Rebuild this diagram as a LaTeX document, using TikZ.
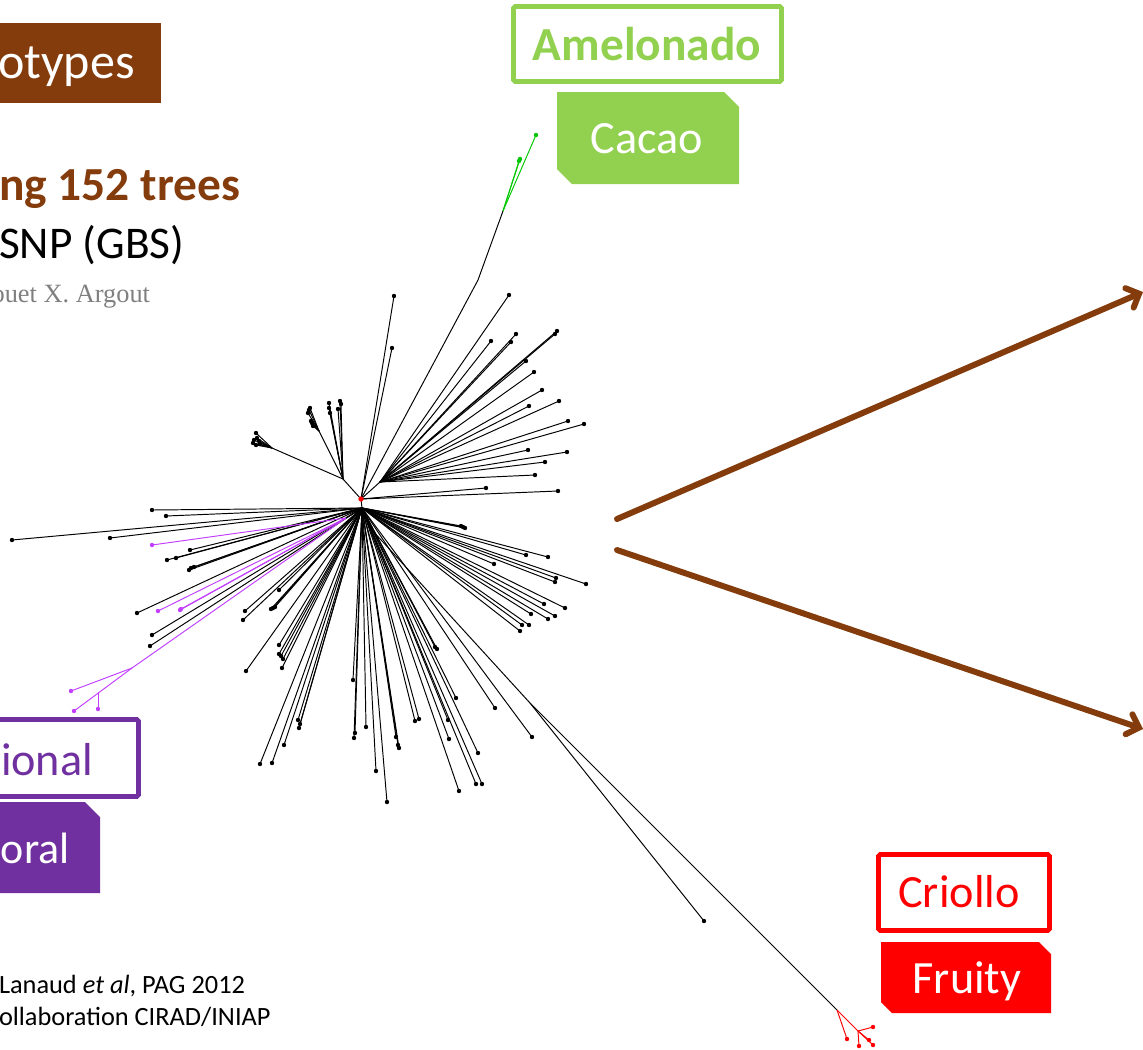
\documentclass[tikz,border=0pt]{standalone}
\usepackage{fontspec}
\setmainfont{Carlito}
\newfontfamily\grayserif{Liberation Serif}
\usetikzlibrary{arrows.meta}
\definecolor{cbrown}{HTML}{843C0C}
\definecolor{cpurple}{HTML}{7030A0}
\definecolor{cgreen}{HTML}{92D050}
\definecolor{cred}{HTML}{FF0000}
\definecolor{tmag}{HTML}{C23FFF}
\definecolor{tgreen}{HTML}{00C800}
\definecolor{cgray}{HTML}{7F7F7F}
\tikzset{
  tb/.style={line width=0.55pt, black},
  tp/.style={line width=0.55pt, tmag},
  tg/.style={line width=0.55pt, tgreen},
  tr/.style={line width=0.55pt, cred},
  txt/.style={inner sep=0pt, outer sep=0pt},
  outbox/.style={line width=2.8pt, rounded corners=1pt},
  bigarrow/.style={line width=3.4pt, cbrown, line cap=round, -{Straight Barb[length=6pt,width=12pt,line cap=round]}},
}
\newcommand{\fs}[1]{\fontsize{#1}{#1}\selectfont}
\begin{document}
\begin{tikzpicture}[x=0.02cm,y=-0.02cm]
\useasboundingbox (0,0) rectangle (1143,1049);
% ---------- title box ----------
\fill[cbrown] (-5,23) rectangle (161,103);
\node[txt, anchor=base west, text=white] (title) at (-2,78) {\fs{28.5}otypes};
\node[txt, anchor=base west, text=cbrown] (trees) at (-1,200) {\fs{27}\bfseries ng 152 trees};
\node[txt, anchor=base west] (snp) at (-1,258) {\fs{25.8}SNP (GBS)};
\node[txt, anchor=base east, text=cgray] (auth) at (150,302) {\grayserif\fs{15}ouet X. Argout};
% ---------- Amelonado / Cacao ----------
\draw[outbox, cgreen, fill=white] (513.5,6.5) rectangle (781.5,81.5);
\node[txt, anchor=base, text=cgreen] (amel) at (647,60) {\fs{27}\bfseries Amelonado};
\fill[cgreen] (557,92) -- (724,92) -- (739,107) -- (739,184) -- (572,184) -- (557,169) -- cycle;
\node[txt, anchor=base, text=white] (cacao) at (647,153) {\fs{26.3}Cacao};
% ---------- Nacional / Floral ----------
\draw[outbox, cpurple] (-10,719.5) rectangle (138.5,796.5);
\node[txt, anchor=base east, text=cpurple] (nac) at (93,775) {\fs{26.3}ional};
\fill[cpurple] (-10,802) -- (85,802) -- (100,817) -- (100,893) -- (-10,893) -- cycle;
\node[txt, anchor=base west, text=white] (flo) at (1,863) {\fs{25}oral};
% ---------- Criollo / Fruity ----------
\draw[outbox, cred] (878.5,854.5) rectangle (1049.5,930.5);
\node[txt, anchor=base, text=cred] (crio) at (959,907) {\fs{26.3}Criollo};
\fill[cred] (881,942) -- (1039,942) -- (1051,954) -- (1051,1013) -- (892,1013) -- (881,1002) -- cycle;
\node[txt, anchor=base, text=white] (fru) at (967,993) {\fs{26.3}Fruity};
% ---------- references ----------
\node[txt, anchor=base west] (ref1) at (-1,993) {\fs{15}Lanaud \textit{et al}, PAG 2012};
\node[txt, anchor=base west] (ref2) at (-1,1025) {\fs{15}ollaboration CIRAD/INIAP};
% ---------- arrows ----------
\coordinate (a0) at (617,519);
\coordinate (a1) at (1143,292);
\coordinate (b0) at (617,550);
\coordinate (b1) at (1143,729);
\draw[bigarrow] (a0) -- (a1);
\draw[bigarrow] (b0) -- (b1);
% ---------- tree ----------
\coordinate (R) at (361,499);
\coordinate (H) at (362,508);
\coordinate (U1) at (380,482);
\coordinate (L1) at (343,479);
\coordinate (L2) at (272,448);
\coordinate (L3) at (319,431);
\coordinate (PS) at (346,518);
\coordinate (P1) at (132,668);
\coordinate (P2) at (98,693);
\coordinate (D1) at (372,530);
\coordinate (K) at (530,703);
\coordinate (C1) at (837,1010);
\coordinate (C2) at (858,1031);
\coordinate (G0) at (478,280);
\coordinate (G1) at (503,211);
\draw[tb] (R) -- (H);
\draw[tb] (R) -- (U1);
\foreach \p in {(509,295),(491,341),(516,334),(511,342),(557,331),(555,334),(526,361),(534,372),(542,390),(529,406),(559,401),(568,421),(584,424),(528,450),(567,452),(545,462),(535,475)}
  {\draw[tb] (U1) -- \p; \fill \p circle[radius=1.25pt];}
\foreach \p in {(486,488),(558,491),(394,296),(392,348)}
  {\draw[tb] (R) -- \p; \fill \p circle[radius=1.25pt];}
% green branch
\draw[tb] (R) -- (G0) -- (G1);
\foreach \p in {(536,135),(520,159),(519,161)}
  {\draw[tg] (G1) -- \p; \fill[tgreen] \p circle[radius=1.25pt];}
% upper left clades
\draw[tb] (R) -- (L1);
\draw[tb] (L1) -- (L2);
\draw[tb] (L1) -- (L3);
\foreach \p in {(256,433),(253,443),(257,438),(259,441),(254,440),(260,444),(256,445)}
  {\draw[tb] (L2) -- \p; \fill \p circle[radius=1.25pt];}
\foreach \p in {(310,408),(308,413),(312,423),(313,426),(311,421),(309,410)}
  {\draw[tb] (L3) -- \p; \fill \p circle[radius=1.25pt];}
\foreach \p in {(329,403),(330,413),(340,401),(338,409),(341,404),(329,408)}
  {\draw[tb] (L1) -- \p; \fill \p circle[radius=1.25pt];}
% left fan
\foreach \p in {(152,510),(166,516),(12,540),(110,538),(190,550),(176,558),(167,560),(189,570),(194,567),(191,568),(137,613),(152,635),(150,646)}
  {\draw[tb] (H) -- \p; \fill \p circle[radius=1.25pt];}
% purple clade
\draw[tb] (H) -- (PS);
\foreach \p in {(152,545),(158,611),(180,610),(181,609)}
  {\draw[tp] (PS) -- \p; \fill[tmag] \p circle[radius=1.25pt];}
\draw[tp] (PS) -- (P1);
\draw[tp] (P1) -- (71,691);
\fill[tmag] (71,691) circle[radius=1.25pt];
\draw[tp] (P1) -- (74,711);
\fill[tmag] (74,711) circle[radius=1.25pt];
\draw[tp] (P2) -- (98,709);
\fill[tmag] (98,709) circle[radius=1.25pt];
% lower left fan
\foreach \p in {(279,590),(273,608),(271,609),(275,607),(245,611),(243,620),(279,645),(279,654),(281,656),(283,659),(282,668),(246,671),(298,720),(299,728),(300,724),(284,745),(272,763),(260,764)}
  {\draw[tb] (H) -- \p; \fill \p circle[radius=1.25pt];}
% downward fan
\foreach \p in {(353,680),(355,733),(354,738),(366,727),(376,771),(387,802),(396,737),(398,745),(399,748),(415,721),(419,719),(435,647),(437,649),(448,720),(449,739),(456,698),(459,791),(476,784),(482,784),(478,753),(495,708),(532,737)}
  {\draw[tb] (H) -- \p; \fill \p circle[radius=1.25pt];}
% right lower fan
\foreach \p in {(463,527),(465,528),(461,526),(526,555),(548,557),(494,564),(556,578),(555,582),(586,584),(544,604),(565,608),(531,614),(555,616),(548,619),(522,625),(529,625),(520,631)}
  {\draw[tb] (H) -- \p; \fill \p circle[radius=1.25pt];}
% long branches to Criollo
\draw[tb] (H) -- (D1) -- (K);
\draw[tb] (K) -- (704,921);
\fill (704,921) circle[radius=1.25pt];
\draw[tb] (K) -- (C1);
\draw[tr] (C1) -- (847,1039);
\fill[cred] (847,1039) circle[radius=1.25pt];
\draw[tr] (C1) -- (C2);
\foreach \p in {(873,1027),(859,1046),(869,1040),(873,1045)}
  {\draw[tr] (C2) -- \p; \fill[cred] \p circle[radius=1.25pt];}
\fill[cred] (R) circle[radius=1.5pt];
\end{tikzpicture}
\end{document}
